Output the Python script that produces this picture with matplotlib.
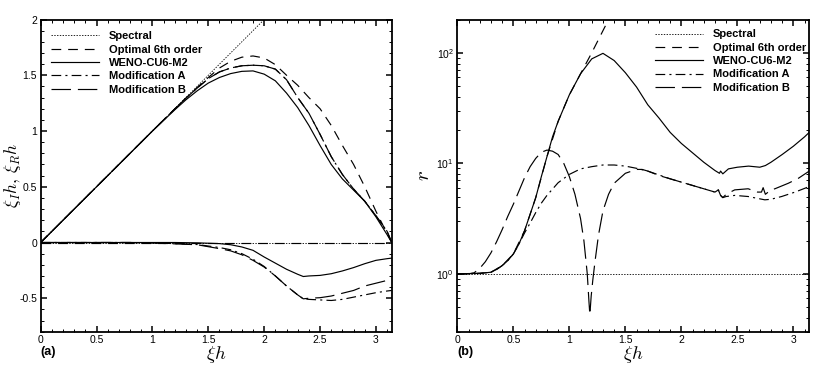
import numpy as np
import matplotlib
matplotlib.use("Agg")
import matplotlib.pyplot as plt
from matplotlib.ticker import MultipleLocator, LogLocator, FixedLocator, FuncFormatter, NullFormatter

plt.rcParams['font.family'] = ['Liberation Sans', 'DejaVu Sans']
plt.rcParams['mathtext.fontset'] = 'cm'
plt.rcParams['lines.scale_dashes'] = False

# ---- panel (a): real part (upper curves) ----
xi_re = [0, 0.5, 1.0, 1.2, 1.3, 1.4, 1.5, 1.6, 1.7, 1.8, 1.9, 2.0, 2.1, 2.2,
         2.3, 2.4, 2.5, 2.6, 2.7, 2.8, 2.9, 3.0, 3.1, np.pi]
opt_re = [0, 0.5, 1.0, 1.198, 1.295, 1.39, 1.48, 1.565, 1.625, 1.662, 1.673, 1.655, 1.595, 1.50,
          1.41, 1.30, 1.20, 1.05, 0.87, 0.70, 0.50, 0.28, 0.08, 0]
weno_re = [0, 0.5, 1.0, 1.19, 1.28, 1.36, 1.43, 1.48, 1.515, 1.535, 1.539, 1.51, 1.45, 1.34,
           1.21, 1.05, 0.87, 0.70, 0.57, 0.47, 0.37, 0.23, 0.07, 0]
modB_re = [0, 0.5, 1.0, 1.198, 1.295, 1.385, 1.47, 1.53, 1.565, 1.585, 1.59, 1.585, 1.555, 1.46,
           1.30, 1.16, 0.97, 0.77, 0.61, 0.48, 0.37, 0.24, 0.10, 0]
modA_re = modB_re
spec_xi = [0, 2.2]
spec_re = [0, 2.2]

# ---- panel (a): imaginary part (lower curves) ----
xi_im = [0, 0.8, 1.0, 1.2, 1.4, 1.6, 1.7, 1.8, 1.9, 2.0, 2.1, 2.2, 2.3, 2.35,
         2.4, 2.5, 2.6, 2.7, 2.8, 2.9, 3.0, 3.1, np.pi]
weno_im = [0, 0, 0, 0, -0.003, -0.01, -0.02, -0.04, -0.07, -0.13, -0.185, -0.24, -0.285, -0.305,
           -0.30, -0.295, -0.28, -0.255, -0.225, -0.19, -0.16, -0.145, -0.14]
modB_im = [0, 0, -0.005, -0.012, -0.02, -0.055, -0.075, -0.11, -0.16, -0.22, -0.30, -0.39, -0.47, -0.505,
           -0.50, -0.495, -0.48, -0.455, -0.43, -0.39, -0.365, -0.34, -0.33]
modA_im = [0, 0, -0.003, -0.01, -0.018, -0.045, -0.065, -0.10, -0.15, -0.215, -0.30, -0.39, -0.47, -0.505,
           -0.51, -0.515, -0.52, -0.51, -0.49, -0.47, -0.45, -0.435, -0.43]
zero_xi = [0, np.pi]
zero_im = [0, 0]

# ---- panel (b): r (stored as log10 r) ----
xi_w = [0, 0.1, 0.2, 0.3, 0.35, 0.4, 0.45, 0.5, 0.55, 0.6, 0.65, 0.7, 0.75, 0.8, 0.85, 0.9,
        1.0, 1.1, 1.2, 1.3, 1.4, 1.5, 1.6, 1.7, 1.8, 1.9, 2.0, 2.1, 2.2, 2.3, 2.34, 2.35,
        2.37, 2.42, 2.5, 2.6, 2.7, 2.75, 2.8, 2.9, 3.0, 3.1, np.pi]
lw_w = [0, 0.003, 0.005, 0.015, 0.04, 0.075, 0.12, 0.18, 0.27, 0.39, 0.54, 0.69, 0.88, 1.06, 1.24, 1.38,
        1.62, 1.81, 1.945, 1.995, 1.93, 1.82, 1.69, 1.53, 1.41, 1.28, 1.18, 1.095, 1.01, 0.935, 0.91, 0.93,
        0.905, 0.95, 0.965, 0.975, 0.965, 0.98, 1.01, 1.08, 1.155, 1.24, 1.28]

xi_o = [0, 0.1, 0.2, 0.3, 0.4, 0.5, 0.6, 0.7, 0.8, 0.9, 1.0, 1.1, 1.2, 1.3, 1.45]
lw_o = [0, 0.003, 0.005, 0.015, 0.075, 0.18, 0.39, 0.69, 1.06, 1.38, 1.62, 1.81, 2.0, 2.2, 2.5]

xi_b = [0, 0.1, 0.15, 0.2, 0.25, 0.3, 0.35, 0.4, 0.45, 0.5, 0.55, 0.6, 0.65, 0.7, 0.75, 0.8,
        0.85, 0.9, 0.95, 1.0, 1.05, 1.1, 1.13, 1.16, 1.175, 1.183, 1.195, 1.21, 1.23, 1.26, 1.3,
        1.35, 1.4, 1.5, 1.6, 1.65, 1.7, 1.8, 1.9, 2.0, 2.1, 2.2, 2.3, 2.33, 2.35, 2.37, 2.4,
        2.476, 2.596, 2.68, 2.715, 2.73, 2.75, 2.8, 2.835, 2.955, 3.045, np.pi]
lw_b = [0, 0, 0.01, 0.05, 0.11, 0.19, 0.29, 0.40, 0.52, 0.63, 0.75, 0.87, 0.97, 1.045, 1.10, 1.12,
        1.11, 1.08, 1.00, 0.88, 0.72, 0.50, 0.30, 0.0, -0.25, -0.37, -0.2, -0.05, 0.12, 0.35, 0.57,
        0.72, 0.82, 0.91, 0.945, 0.945, 0.93, 0.89, 0.86, 0.83, 0.80, 0.77, 0.74, 0.76, 0.71, 0.69, 0.72,
        0.76, 0.77, 0.74, 0.74, 0.78, 0.72, 0.76, 0.77, 0.82, 0.865, 0.93]

xi_a = [0, 0.1, 0.2, 0.3, 0.35, 0.4, 0.45, 0.5, 0.55, 0.6, 0.65, 0.7, 0.75, 0.8, 0.9, 1.0, 1.1,
        1.2, 1.3, 1.4, 1.5, 1.6, 1.7, 1.8, 1.9, 2.0, 2.1, 2.2, 2.3, 2.33, 2.35, 2.37, 2.4,
        2.476, 2.596, 2.745, 2.8, 2.895, 3.015, np.pi]
lw_a = [0, 0.003, 0.005, 0.015, 0.04, 0.075, 0.12, 0.18, 0.27, 0.37, 0.46, 0.555, 0.64, 0.71, 0.825,
        0.90, 0.95, 0.97, 0.985, 0.985, 0.975, 0.955, 0.93, 0.895, 0.86, 0.83, 0.80, 0.77, 0.74, 0.76,
        0.71, 0.69, 0.70, 0.71, 0.70, 0.67, 0.675, 0.70, 0.74, 0.79]

labels = ['Spectral', 'Optimal 6th order', 'WENO-CU6-M2', 'Modification A', 'Modification B']
ls_spec = (0, (1, 1))
ls_opt = (0, (7, 5))
ls_a = (0, (7, 3, 1.5, 3))
ls_b = (0, (14, 5))
lw = 0.85

fig = plt.figure(figsize=(8.3, 3.66), dpi=100)
ax1 = fig.add_axes([0.049, 0.0937, 0.423, 0.853])
ax2 = fig.add_axes([0.551, 0.0937, 0.424, 0.853])

leg_kw = dict(loc='upper left', frameon=False, handlelength=4.3, handletextpad=0.9,
              labelspacing=0.3, borderpad=0, borderaxespad=0, prop={'weight': 'bold', 'size': 8})

# (a)
ax1.plot(spec_xi, spec_re, color='k', lw=0.6, ls=ls_spec, label=labels[0])
ax1.plot(xi_re, opt_re, color='k', lw=lw, ls=ls_opt, label=labels[1])
ax1.plot(xi_re, weno_re, color='k', lw=lw, ls='-', label=labels[2])
ax1.plot(xi_re, modA_re, color='k', lw=lw, ls=ls_a, label=labels[3])
ax1.plot(xi_re, modB_re, color='k', lw=lw, ls=ls_b, label=labels[4])
ax1.plot(zero_xi, zero_im, color='k', lw=0.6, ls=ls_spec)
ax1.plot(zero_xi, zero_im, color='k', lw=lw, ls=ls_opt)
ax1.plot(xi_im, weno_im, color='k', lw=lw, ls='-')
ax1.plot(xi_im, modA_im, color='k', lw=lw, ls=ls_a)
ax1.plot(xi_im, modB_im, color='k', lw=lw, ls=ls_b)
ax1.set_xlim(0, np.pi)
ax1.set_ylim(-0.8, 2)
ax1.xaxis.set_major_locator(MultipleLocator(0.5))
ax1.xaxis.set_minor_locator(MultipleLocator(0.1))
ax1.yaxis.set_major_locator(MultipleLocator(0.5))
ax1.yaxis.set_minor_locator(MultipleLocator(0.1))
ax1.xaxis.set_major_formatter(FuncFormatter(lambda v, p: '%g' % v))
ax1.yaxis.set_major_formatter(FuncFormatter(lambda v, p: '%g' % v))
ax1.set_ylabel(r'$\tilde{\xi}_I h,\,\tilde{\xi}_R h$', fontsize=12.5)
ax1.yaxis.set_label_coords(-0.047, 0.5)
ax1.set_xlabel(r'$\xi h$', fontsize=13.5, labelpad=-1)
ax1.legend(bbox_to_anchor=(0.03, 0.962), **leg_kw)
fig.text(0.049, 0.037, '(a)', fontsize=9, fontweight='bold', va='center', ha='left')

# (b)
ax2.plot(zero_xi, [1, 1], color='k', lw=0.6, ls=ls_spec, label=labels[0])
ax2.plot(xi_o, 10 ** np.array(lw_o), color='k', lw=lw, ls=ls_opt, label=labels[1])
ax2.plot(xi_w, 10 ** np.array(lw_w), color='k', lw=lw, ls='-', label=labels[2])
ax2.plot(xi_a, 10 ** np.array(lw_a), color='k', lw=lw, ls=ls_a, label=labels[3])
ax2.plot(xi_b, 10 ** np.array(lw_b), color='k', lw=lw, ls=ls_b, label=labels[4])
ax2.set_yscale('log')
ax2.set_xlim(0, np.pi)
ax2.set_ylim(0.3, 200)
ax2.xaxis.set_major_locator(MultipleLocator(0.5))
ax2.xaxis.set_minor_locator(MultipleLocator(0.1))
ax2.xaxis.set_major_formatter(FuncFormatter(lambda v, p: '%g' % v))
ax2.yaxis.set_major_locator(FixedLocator([1, 10, 100]))
ax2.yaxis.set_minor_locator(LogLocator(base=10, subs=np.arange(2, 10)))
ax2.yaxis.set_minor_formatter(NullFormatter())
ax2.yaxis.set_major_formatter(FuncFormatter(
    lambda v, p: r'$\mathregular{10^{%d}}$' % int(round(np.log10(v)))))
ax2.set_ylabel(r'$r$', fontsize=15)
ax2.yaxis.set_label_coords(-0.07, 0.5)
ax2.set_xlabel(r'$\xi h$', fontsize=13.5, labelpad=-1)
ax2.legend(bbox_to_anchor=(0.562, 0.968), **leg_kw)
fig.text(0.551, 0.037, '(b)', fontsize=9, fontweight='bold', va='center', ha='left')

for ax in (ax1, ax2):
    for s in ax.spines.values():
        s.set_linewidth(1.3)
    ax.tick_params(which='both', direction='in', top=True, right=True, labelsize=7.5)
    ax.tick_params(which='major', length=4, width=1.1, pad=2.5)
    ax.tick_params(which='minor', length=2, width=0.7)

fig.savefig('out.png', dpi=100)
